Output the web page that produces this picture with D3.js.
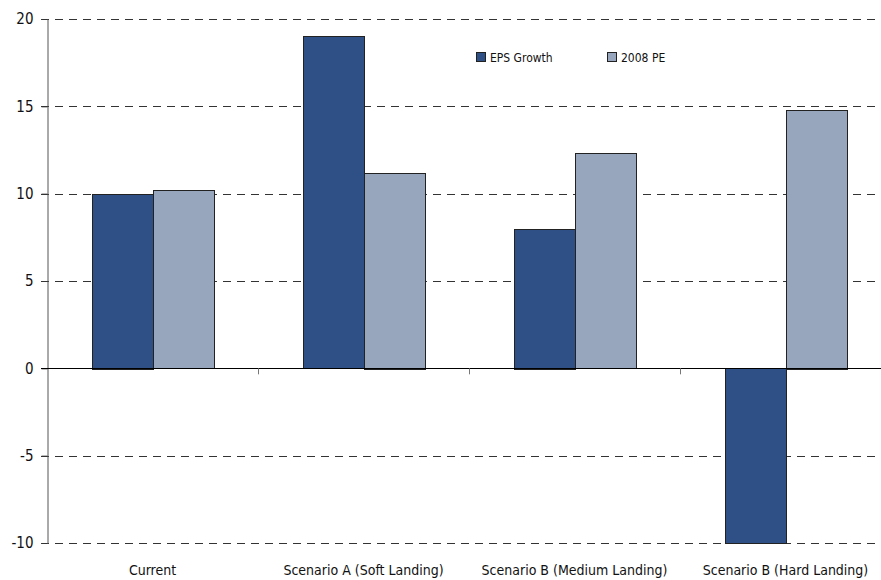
<!DOCTYPE html>
<html>
<head>
<meta charset="utf-8">
<script src="https://cdn.jsdelivr.net/npm/d3@7"></script>
<style>
  body { margin: 0; background: #fff; }
  svg text { font-family: "Liberation Sans Narrow", "DejaVu Sans Condensed", sans-serif; fill: #111; }
</style>
</head>
<body>
<svg id="chart" width="881" height="580"></svg>
<script>
// chart values
var categories = [ "Current", "Scenario A (Soft Landing)", "Scenario B (Medium Landing)", "Scenario B (Hard Landing)" ];
var seriesNames = [ "EPS Growth", "2008 PE" ];
var epsGrowth = [ 10, 19, 8, -10 ];
var pe2008 = [ 10.2, 11.2, 12.3, 14.8 ];
var yTicks = [ -10, -5, 0, 5, 10, 15, 20 ];

var colors = { "EPS Growth" : "#2f4f87", "2008 PE" : "#97a6bc" };

var svg = d3.select( "#chart" );
var plotLeft = 47, plotRight = 891, plotTop = 19, plotBottom = 543;

var x = d3.scaleBand()
  .domain( categories )
  .range( [ plotLeft, plotRight ] );

var xInner = d3.scaleBand()
  .domain( seriesNames )
  .range( [ 0, x.bandwidth() ] )
  .paddingOuter( 0.73 );

var y = d3.scaleLinear()
  .domain( [ -10, 20 ] )
  .range( [ plotBottom, plotTop ] );

// dashed gridlines
svg.selectAll( "line.grid" )
  .data( yTicks.filter( d => d !== 0 ) )
  .enter().append( "line" )
    .attr( "class", "grid" )
    .attr( "x1", plotLeft - 6 )
    .attr( "x2", plotRight )
    .attr( "y1", d => Math.round( y( d ) ) + 0.5 )
    .attr( "y2", d => Math.round( y( d ) ) + 0.5 )
    .attr( "stroke", "#333" )
    .attr( "stroke-dasharray", "8,6" );

// bars
var rows = categories.map( ( c, i ) => ( { cat : c, values : [ { key : "EPS Growth", v : epsGrowth[ i ] }, { key : "2008 PE", v : pe2008[ i ] } ] } ) );

svg.selectAll( "g.cat" )
  .data( rows )
  .enter().append( "g" )
    .attr( "class", "cat" )
    .attr( "transform", d => "translate(" + x( d.cat ) + ",0)" )
  .selectAll( "rect" )
  .data( d => d.values )
  .enter().append( "rect" )
    .attr( "x", d => Math.round( xInner( d.key ) ) + 0.5 )
    .attr( "width", Math.round( xInner.bandwidth() ) )
    .attr( "y", d => Math.round( y( Math.max( 0, d.v ) ) ) + 0.5 )
    .attr( "height", d => Math.round( Math.abs( y( d.v ) - y( 0 ) ) ) )
    .attr( "fill", d => colors[ d.key ] )
    .attr( "stroke", "#222" )
    .attr( "stroke-width", 1 );

// y axis
var yAxis = svg.append( "g" )
  .attr( "transform", "translate(" + ( plotLeft + 0.5 ) + ",0)" )
  .call( d3.axisLeft( y ).tickValues( yTicks ).tickSize( 6 ).tickPadding( 8 ).tickFormat( d => String( d ) ) );

yAxis.select( ".domain" ).attr( "stroke", "#555" );
yAxis.selectAll( ".tick line" ).attr( "stroke", "#333" );
yAxis.selectAll( "text" )
  .style( "font-size", "15px" )
  .attr( "fill", "#111" );

// zero line with category ticks
svg.append( "line" )
  .attr( "x1", plotLeft - 6 )
  .attr( "x2", plotRight )
  .attr( "y1", Math.round( y( 0 ) ) + 0.5 )
  .attr( "y2", Math.round( y( 0 ) ) + 0.5 )
  .attr( "stroke", "#000" );

svg.selectAll( "line.cattick" )
  .data( categories.slice( 1 ) )
  .enter().append( "line" )
    .attr( "class", "cattick" )
    .attr( "x1", d => Math.round( x( d ) ) + 0.5 )
    .attr( "x2", d => Math.round( x( d ) ) + 0.5 )
    .attr( "y1", y( 0 ) )
    .attr( "y2", y( 0 ) + 6 )
    .attr( "stroke", "#777" );

// category labels
svg.selectAll( "text.cat" )
  .data( categories )
  .enter().append( "text" )
    .attr( "class", "cat" )
    .attr( "x", d => x( d ) + x.bandwidth() / 2 )
    .attr( "y", 575 )
    .attr( "text-anchor", "middle" )
    .style( "font-size", "14px" )
    .text( d => d );

// legend
var legend = svg.selectAll( "g.legend" )
  .data( seriesNames )
  .enter().append( "g" )
    .attr( "class", "legend" )
    .attr( "transform", ( d, i ) => "translate(" + ( 476 + i * 131 ) + ",52)" );

legend.append( "rect" )
  .attr( "x", 0.5 )
  .attr( "y", 0.5 )
  .attr( "width", 9 )
  .attr( "height", 9 )
  .attr( "fill", d => colors[ d ] )
  .attr( "stroke", "#222" );

legend.append( "text" )
  .attr( "x", 14 )
  .attr( "y", 9.5 )
  .style( "font-size", "12px" )
  .text( d => d );
</script>
</body>
</html>
